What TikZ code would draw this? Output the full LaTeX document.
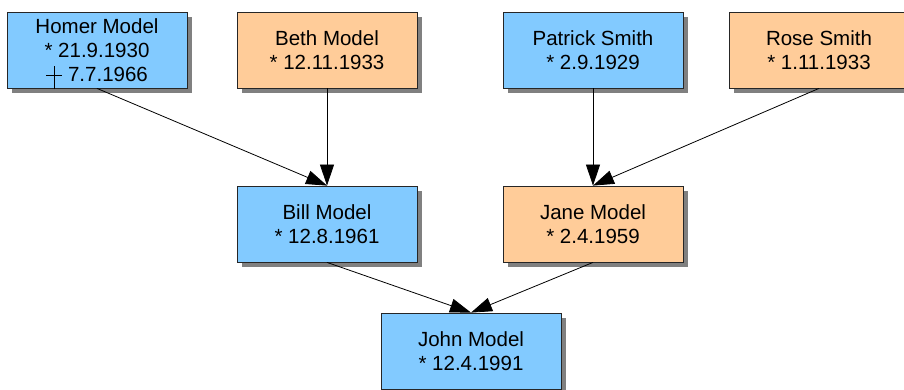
\documentclass[tikz,border=0pt]{standalone}
\usepackage{fontspec}
\setmainfont{Liberation Sans}
\usetikzlibrary{arrows.meta,shadows}

\definecolor{maleblue}{RGB}{130,202,255}
\definecolor{femaleorange}{RGB}{255,204,153}

% cross for the date of death
\newcommand{\deathcross}{\makebox[22pt][l]{\smash{\rule[5pt]{16pt}{1.2pt}\hspace{-8.6pt}\rule[-8pt]{1.2pt}{23pt}}}}

\tikzset{
  person/.style={draw=black!85, line width=0.8pt, minimum width=180pt,
    minimum height=76pt, inner sep=0pt, align=center,
    font=\fontsize{20.5}{24}\selectfont,
    drop shadow={shadow xshift=5pt, shadow yshift=-5pt, fill=black!50, opacity=1}},
  male/.style={person, fill=maleblue},
  female/.style={person, fill=femaleorange},
  parentof/.style={-{Triangle[length=21pt,width=14pt]}, line width=0.8pt}
}

\begin{document}
\begin{tikzpicture}[x=1pt, y=-1pt]

    % Frame
    \useasboundingbox (0,0) rectangle (904,390);

    % Grandparents
    \node[male]   (homer)   at (97,50)  {Homer Model\\* 21.9.1930\\\deathcross7.7.1966};
    \node[female] (beth)    at (327,50) {Beth Model\\* 12.11.1933};
    \node[male]   (patrick) at (593,50) {Patrick Smith\\* 2.9.1929};
    \node[female] (rose)    at (819,50) {Rose Smith\\* 1.11.1933};

    % Parents
    \node[male]   (bill) at (327,224) {Bill Model\\* 12.8.1961};
    \node[female] (jane) at (593,224) {Jane Model\\* 2.4.1959};

    % Child
    \node[male] (john) at (471,351) {John Model\\* 12.4.1991};

    % Lines of descent
    \draw[parentof] (homer.south) -- (bill.north);
    \draw[parentof] (beth.south) -- (bill.north);
    \draw[parentof] (patrick.south) -- (jane.north);
    \draw[parentof] (rose.south) -- (jane.north);
    \draw[parentof] (bill.south) -- (john.north);
    \draw[parentof] (jane.south) -- (john.north);

\end{tikzpicture}
\end{document}
